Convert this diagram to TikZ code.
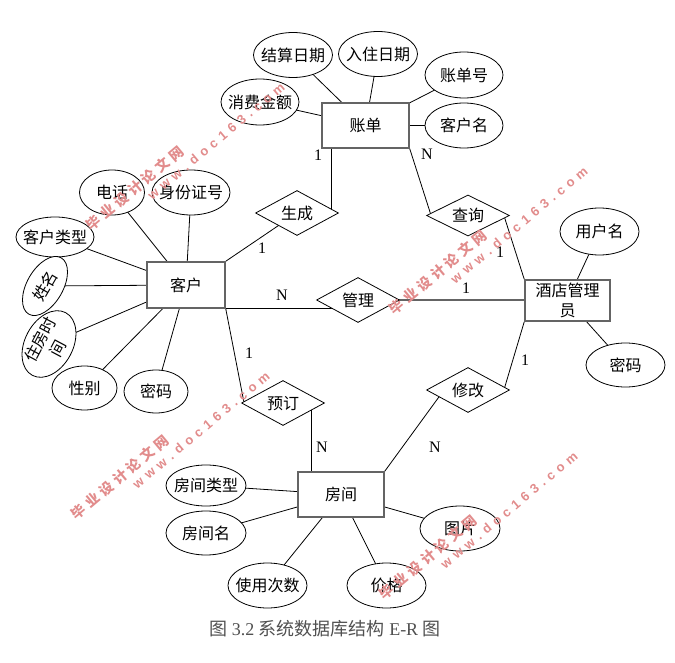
\documentclass[tikz,border=0pt]{standalone}
\usepackage{fontspec}
\setmainfont{Liberation Serif}
\newfontfamily\cjk{Noto Sans CJK SC}
\newfontfamily\wmsans{Liberation Sans}
\usetikzlibrary{shapes.geometric,calc,backgrounds}
\newcommand{\zt}[1]{\makebox[0pt]{\raisebox{-0.38em}[0pt][0pt]{#1}}}
\newcommand{\cws}{\hspace{3.9pt}}
\newcommand{\wws}{\hspace{5pt}}
\newcommand{\wmarkpair}[2]{%
  \node[wmcn] (#1c) at (#2) {毕\cws 业\cws 设\cws 计\cws 论\cws 文\cws 网};
  \node[wmen] (#1e) at ($(#2)+(81,-47)$) {w\wws w\wws w\wws .\wws d\wws o\wws c\wws 1\wws 6\wws 3\wws .\wws c\wws o\wws m};}
\definecolor{wm}{RGB}{226,140,140}
\definecolor{bordergray}{RGB}{100,100,100}
\definecolor{capgray}{RGB}{80,80,80}
\begin{document}
\begin{tikzpicture}[x=1pt,y=-1pt,
  every node/.style={inner sep=0pt},
  entity/.style={draw=bordergray, line width=1.5pt, fill=white, font=\cjk\fontsize{16}{20}\selectfont, align=center},
  attr/.style={draw, ellipse, line width=0.8pt, fill=white, font=\cjk\fontsize{16}{20}\selectfont},
  rel/.style={draw, diamond, line width=0.8pt, fill=white, minimum width=83pt, minimum height=45pt, font=\cjk\fontsize{16}{20}\selectfont},
  conn/.style={line width=0.8pt},
  thickconn/.style={line width=1.6pt, draw=bordergray},
  card/.style={font=\fontsize{16}{18}\selectfont},
  wmcn/.style={text=wm, rotate=40, font=\cjk\bfseries\fontsize{14}{14}\selectfont},
  wmen/.style={text=wm, rotate=40, font=\wmsans\bfseries\fontsize{13}{13}\selectfont},
]
\useasboundingbox (0,0) rectangle (675,663);

% entities
\node[entity, minimum width=87pt, minimum height=45pt] (zd) at (365.5,125.5) {账单};
\node[entity, minimum width=78pt, minimum height=46pt] (kh) at (186,285) {客户};
\node[entity, minimum width=85pt, minimum height=41pt] (gly) at (567.5,300.5) {酒店管理\\员};
\node[entity, minimum width=86pt, minimum height=45pt] (fj) at (341,494.5) {房间};

% relationships
\node[rel] (sc) at (297,213) {\zt{生成}};
\node[rel, minimum height=41pt] (cx) at (468,215.5) {\zt{查询}};
\node[rel] (gl) at (358,300) {\zt{管理}};
\node[rel] (xg) at (468,390) {\zt{修改}};
\node[rel] (yd) at (283,403) {\zt{预订}};

% attributes of 账单
\node[attr, minimum width=79pt, minimum height=45pt] (jsrq) at (293,55) {\zt{结算日期}};
\node[attr, minimum width=79pt, minimum height=45pt] (rzrq) at (378,54) {\zt{入住日期}};
\node[attr, minimum width=78pt, minimum height=46pt] (zdh) at (464,75) {\zt{账单号}};
\node[attr, minimum width=78pt, minimum height=45pt] (khm) at (464,125.5) {\zt{客户名}};
\node[attr, minimum width=78pt, minimum height=46pt] (xfje) at (260,102) {\zt{消费金额}};

% attributes of 客户
\node[attr, minimum width=65pt, minimum height=45pt] (dh) at (112,192.5) {\zt{电话}};
\node[attr, minimum width=78pt, minimum height=45pt] (sfzh) at (191,192.5) {\zt{身份证号}};
\node[attr, minimum width=78pt, minimum height=40pt] (khlx) at (55,237) {\zt{客户类型}};
\node[attr, minimum width=65pt, minimum height=36pt, rotate=60] (xm) at (45,286) {\zt{姓名}};
\node[attr, minimum width=71pt, minimum height=48pt, rotate=62] (zfsj) at (49,344) {};
\node[rotate=62, align=center, font=\cjk\fontsize{16}{20}\selectfont] (zfsjt) at (zfsj.center) {住房时\\间};
\node[attr, minimum width=65pt, minimum height=44pt] (xb) at (84.5,388) {\zt{性别}};
\node[attr, minimum width=64pt, minimum height=43pt] (mm1) at (156,391.5) {\zt{密码}};

% attributes of 酒店管理员
\node[attr, minimum width=79pt, minimum height=47pt] (yhm) at (599.5,231.5) {\zt{用户名}};
\node[attr, minimum width=79pt, minimum height=44pt] (mm2) at (625.5,365) {\zt{密码}};

% attributes of 房间
\node[attr, minimum width=80pt, minimum height=41pt] (fjlx) at (206,485.5) {\zt{房间类型}};
\node[attr, minimum width=80pt, minimum height=44pt] (fjm) at (206,533) {\zt{房间名}};
\node[attr, minimum width=79pt, minimum height=45pt] (sycs) at (267.5,585.5) {\zt{使用次数}};
\node[attr, minimum width=79pt, minimum height=45pt] (jg) at (386.5,585.5) {\zt{价格}};
\node[attr, minimum width=80pt, minimum height=45pt] (tp) at (460,528.5) {\zt{图片}};

% cardinalities
\node[card] (c1) at (318,155) {1};
\node[card] (c2) at (262,248) {1};
\node[card] (c3) at (427,154) {N};
\node[card] (c4) at (500,252) {1};
\node[card] (c5) at (282,295) {N};
\node[card] (c6) at (466,288) {1};
\node[card] (c7) at (525,360) {1};
\node[card] (c8) at (435,447) {N};
\node[card] (c9) at (249,353) {1};
\node[card] (c10) at (322,447) {N};

% caption
\node[font=\fontsize{18}{20}\selectfont, text=capgray] (cap) at (325,629) {{\cjk 图} 3.2 {\cjk 系统数据库结构} E-R {\cjk 图}};

\begin{scope}[on background layer]
\fill[white] (0,0) rectangle (675,663);
% attribute links
\foreach \a in {jsrq,rzrq,zdh,khm,xfje} \draw[conn] (\a.center) -- (zd.center);
\foreach \a in {dh,sfzh,khlx,xm,zfsj,xb,mm1} \draw[conn] (\a.center) -- (kh.center);
\foreach \a in {yhm,mm2} \draw[conn] (\a.center) -- (gly.center);
\foreach \a in {fjlx,fjm,sycs,jg,tp} \draw[conn] (\a.center) -- (fj.center);
% relationship links
\coordinate (zdb) at ($(zd.south west)+(10,0)$);
\draw[conn] (zdb) -- (zdb |- sc.center);
\draw[conn] (sc.center) -- (kh.north east);
\draw[conn] (zd.south east) -- ($(cx.west)+(5,0)$);
\draw[conn] ($(cx.east)+(-6,0)$) -- (gly.north west);
\draw[conn] (kh.south east) -- (kh.south east -| gl.center);
\draw[thickconn] (gl.center) -- (gl.center -| gly.west);
\draw[conn] ($(xg.east)+(-6,0)$) -- (gly.south west);
\draw[conn] ($(xg.center)+(-24,0)$) -- (fj.north east);
\draw[conn] (kh.south east) -- ($(yd.west)+(3,0)$);
\coordinate (ydv) at ($(yd.center)+(28,0)$);
\draw[conn] (ydv) -- (ydv |- fj.north);
\end{scope}

% watermarks
\wmarkpair{wa}{135,188}
\wmarkpair{wb}{438,272}
\wmarkpair{wc}{120,477}
\wmarkpair{wd}{428,557}
\end{tikzpicture}
\end{document}
